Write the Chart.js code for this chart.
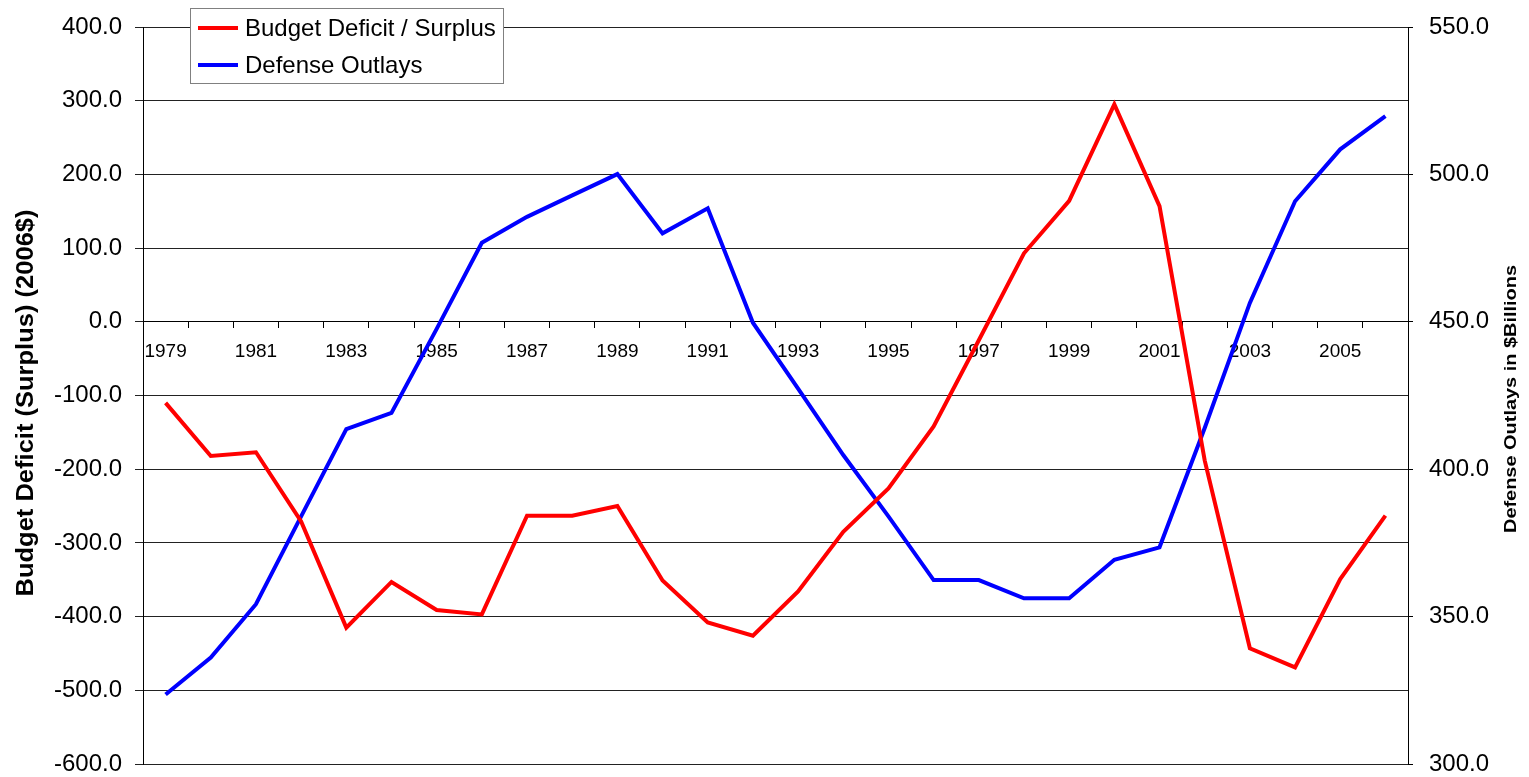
<!DOCTYPE html>
<html><head><meta charset="utf-8">
<script src="https://cdn.jsdelivr.net/npm/chart.js@4.4.1/dist/chart.umd.min.js"></script>
<style>html,body{margin:0;padding:0;background:#fff;}#wrap{width:1529px;height:777px;position:relative;}</style>
</head><body><div id="wrap"><canvas id="c" width="1529" height="777"></canvas></div>
<script>
const years = ['1979','1980','1981','1982','1983','1984','1985','1986','1987','1988','1989','1990','1991','1992','1993','1994','1995','1996','1997','1998','1999','2000','2001','2002','2003','2004','2005','2006'];
const deficitLabel = 'Budget Deficit / Surplus';
const defenseLabel = 'Defense Outlays';
const deficit = [-110, -182, -177, -271, -415, -353, -391, -397, -263, -263, -250, -351, -408, -426, -366, -285, -226, -142, -25, 93, 164, 295, 157, -188, -443, -469, -349, -263];
const defense = [323.6, 336.1, 354.2, 384, 413.6, 419.1, 447.6, 476.8, 485.6, 492.9, 500.1, 480, 488.5, 449.7, 427.3, 404.8, 384, 362.4, 362.4, 356.2, 356.2, 369.3, 373.5, 414, 456.4, 490.9, 508.5, 519.8];
const leftTicks = {min: -600, max: 400, step: 100};
const rightTicks = {min: 300, max: 550, step: 50};
const leftTitle = 'Budget Deficit (Surplus) (2006$)';
const rightTitle = 'Defense Outlays in $Billions';

const FONT = "'Liberation Sans', Arial, Helvetica, sans-serif";

const titlesPlugin = {
  id: 'axisTitles',
  afterDraw(chart) {
    const ctx = chart.ctx;
    const ca = chart.chartArea;
    ctx.save();
    ctx.fillStyle = '#000';
    ctx.textAlign = 'center';
    ctx.textBaseline = 'middle';
    // left title
    ctx.save();
    ctx.translate(26, 403);
    ctx.rotate(-Math.PI / 2);
    ctx.font = 'bold 24px ' + FONT;
    const wl = ctx.measureText(leftTitle).width;
    ctx.scale(387 / wl, 1);
    ctx.fillText(leftTitle, 0, 0);
    ctx.restore();
    // right title
    ctx.save();
    ctx.translate(1512, 399);
    ctx.rotate(-Math.PI / 2);
    ctx.font = 'bold 16px ' + FONT;
    const w = ctx.measureText(rightTitle).width;
    ctx.scale(268 / w, 1);
    ctx.fillText(rightTitle, 0, 0);
    ctx.restore();
    ctx.restore();
  }
};

const legendPlugin = {
  id: 'boxLegend',
  afterDraw(chart) {
    const ctx = chart.ctx;
    ctx.save();
    const x = 190, y = 8, w = 313, h = 75;
    ctx.fillStyle = '#fff';
    ctx.fillRect(x, y, w, h);
    ctx.strokeStyle = '#808080';
    ctx.lineWidth = 1;
    ctx.strokeRect(x + 0.5, y + 0.5, w, h);
    const rows = [28, 65];
    chart.data.datasets.forEach((ds, i) => {
      ctx.strokeStyle = ds.borderColor;
      ctx.lineWidth = 4;
      ctx.lineCap = 'butt';
      ctx.beginPath();
      ctx.moveTo(198, rows[i]);
      ctx.lineTo(238, rows[i]);
      ctx.stroke();
      ctx.fillStyle = '#000';
      ctx.font = '24px ' + FONT;
      ctx.textAlign = 'left';
      ctx.textBaseline = 'middle';
      ctx.fillText(ds.label, 245, rows[i] + 1);
    });
    ctx.restore();
  }
};

new Chart(document.getElementById('c'), {
  type: 'line',
  data: {
    labels: years,
    datasets: [
      {label: deficitLabel, data: deficit, yAxisID: 'y', borderColor: '#FF0000', backgroundColor: '#FF0000', borderWidth: 4, pointRadius: 0, tension: 0, fill: false, borderJoinStyle: 'miter'},
      {label: defenseLabel, data: defense, yAxisID: 'y1', borderColor: '#0000FF', backgroundColor: '#0000FF', borderWidth: 4, pointRadius: 0, tension: 0, fill: false, borderJoinStyle: 'miter'}
    ]
  },
  options: {
    responsive: false,
    animation: false,
    devicePixelRatio: 1,
    layout: {padding: {top: 27, bottom: 13, left: 0, right: 0}},
    plugins: {legend: {display: false}, tooltip: {enabled: false}, title: {display: false}},
    scales: {
      x: {
        type: 'category',
        position: {y: 0},
        offset: true,
        grid: {display: true, drawOnChartArea: false, drawTicks: true, tickLength: 6, offset: true, color: '#000', lineWidth: 1},
        border: {display: true, color: '#000', width: 1},
        ticks: {autoSkip: false, maxRotation: 0, minRotation: 0, padding: 13, color: '#000', font: {size: 19, family: FONT},
          callback: (v, i) => (i % 2 === 0 ? years[i] : '')}
      },
      y: {
        position: 'left',
        min: leftTicks.min, max: leftTicks.max,
        ticks: {stepSize: leftTicks.step, padding: 13, color: '#000', font: {size: 24, family: FONT}, callback: v => Number(v).toFixed(1)},
        grid: {color: '#222', lineWidth: 1, tickLength: 8, drawTicks: true},
        border: {display: true, color: '#000', width: 1},
        afterFit(s) { s.width = 143; s.paddingTop = 0; s.paddingBottom = 0; }
      },
      y1: {
        position: 'right',
        min: rightTicks.min, max: rightTicks.max,
        ticks: {stepSize: rightTicks.step, padding: 16, color: '#000', font: {size: 24, family: FONT}, callback: v => Number(v).toFixed(1)},
        grid: {drawOnChartArea: false, color: '#000', tickLength: 5, drawTicks: true},
        border: {display: true, color: '#000', width: 1},
        afterFit(s) { s.width = 121; s.paddingTop = 0; s.paddingBottom = 0; }
      }
    }
  },
  plugins: [titlesPlugin, legendPlugin]
});
</script></body></html>
